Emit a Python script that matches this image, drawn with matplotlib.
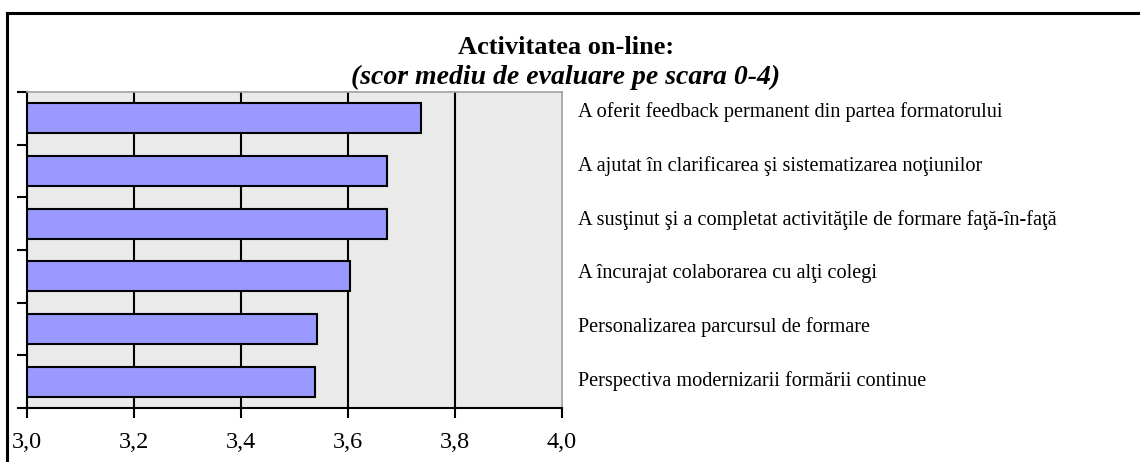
import matplotlib.pyplot as plt
import matplotlib.transforms as mtransforms
from matplotlib.lines import Line2D

plt.rcParams['font.family'] = ['Liberation Serif', 'DejaVu Serif']

# Data (top to bottom)
labels = [
    "A oferit feedback permanent din partea formatorului",
    "A ajutat în clarificarea şi sistematizarea noţiunilor",
    "A susţinut şi a completat activităţile de formare faţă-în-faţă",
    "A încurajat colaborarea cu alţi colegi",
    "Personalizarea parcursul de formare",
    "Perspectiva modernizarii formării continue",
]
scores = [3.736, 3.673, 3.672, 3.604, 3.542, 3.538]
xticks = [3.0, 3.2, 3.4, 3.6, 3.8, 4.0]
xtick_labels = ["3,0", "3,2", "3,4", "3,6", "3,8", "4,0"]

W, H = 1140, 462
fig = plt.figure(figsize=(W / 100, H / 100), dpi=100)
ax = fig.add_axes([27 / W, 1 - 408 / H, (562 - 27) / W, (408 - 92) / H])
ax.set_facecolor('#EAEAEA')

ypos = list(range(len(labels)))
ax.barh(ypos, [s - 3.0 for s in scores], left=3.0, height=0.57,
        color='#9999FF', edgecolor='black', linewidth=1.5, zorder=3)

ax.set_xlim(3.0, 4.0)
ax.set_ylim(len(labels) - 0.5, -0.5)

# vertical grid lines
for x in xticks[1:-1]:
    ax.axvline(x, color='black', linewidth=1.5, zorder=2)

ax.set_xticks(xticks)
ax.set_xticklabels(xtick_labels, fontsize=17.5)
ax.set_yticks([i - 0.5 for i in range(len(labels) + 1)])
ax.set_yticklabels([])
ax.tick_params(axis='x', direction='out', length=7, width=1.5, pad=10)
ax.tick_params(axis='y', direction='out', length=7, width=1.5)

for side in ['left', 'bottom']:
    ax.spines[side].set_linewidth(1.5)
    ax.spines[side].set_color('black')
for side in ['top', 'right']:
    ax.spines[side].set_linewidth(1.2)
    ax.spines[side].set_color('#A0A0A0')

# category labels on the right (legend-like spacing, slightly wider than rows)
trans = mtransforms.blended_transform_factory(ax.transAxes, ax.transData)
for i, lab in enumerate(labels):
    ax.text(1.03, i * 1.02 - 0.11, lab, transform=trans, ha='left', va='center',
            fontsize=14.6)

# titles
fig.text(566 / W, 1 - 47 / H, "Activitatea on-line:", ha='center', va='center',
         fontsize=19, fontweight='bold')
fig.text(566 / W, 1 - 77 / H, "(scor mediu de evaluare pe scara 0-4)", ha='center',
         va='center', fontsize=20, fontweight='bold', fontstyle='italic')

# outer frame (top and left edges)
fig.add_artist(Line2D([7 / W, 1.0], [1 - 12.5 / H, 1 - 12.5 / H], color='black', linewidth=2.2))
fig.add_artist(Line2D([7 / W, 7 / W], [0.0, 1 - 12.5 / H], color='black', linewidth=2.2))

fig.savefig('out.png', dpi=100)
